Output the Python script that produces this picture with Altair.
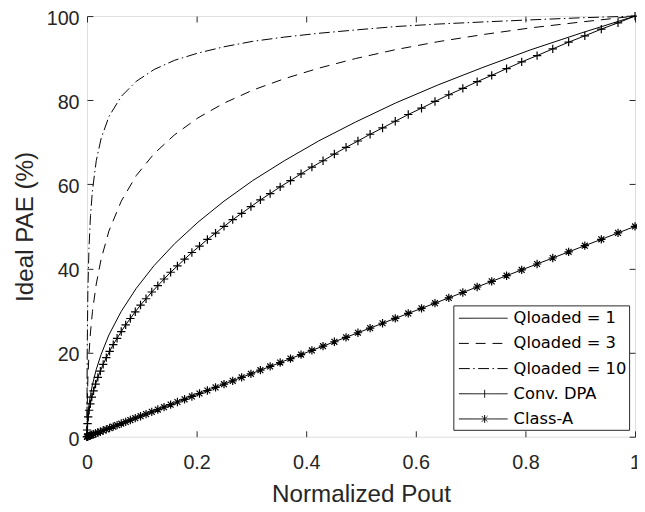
import altair as alt
import pandas as pd

FONT = "Liberation Sans"
LFONT = "DejaVu Sans"
AXC = "#262626"

# ---- data ----
series_names = ["Qloaded = 1", "Qloaded = 3", "Qloaded = 10", "Conv. DPA", "Class-A"]

# sampling grid (Normalized Pout) for the Qloaded curves
pout_q = [0, 0.0001, 0.0004, 0.0016, 0.0036, 0.0064, 0.01, 0.0169, 0.0256, 0.04,
          0.0625, 0.09, 0.1225, 0.16, 0.2025, 0.25, 0.3025, 0.36, 0.4225, 0.49,
          0.5625, 0.64, 0.7225, 0.81, 0.9025, 1]
pae_q1 = [0, 1.3, 2.5, 5.0, 7.5, 10.0, 12.4, 16.0, 19.5, 24.2,
          29.8, 35.3, 40.7, 45.9, 51.0, 56.0, 60.9, 65.6, 70.3, 74.8,
          79.3, 83.6, 87.8, 92.0, 96.0, 100]
pae_q3 = [0, 3.7, 7.2, 13.7, 19.6, 24.9, 29.8, 36.3, 42.1, 48.9,
          56.0, 62.1, 67.3, 71.8, 75.8, 79.3, 82.4, 85.1, 87.6, 89.9,
          92.0, 93.9, 95.6, 97.2, 98.6, 100]
pae_q10 = [0, 11.4, 20.6, 34.7, 44.8, 52.6, 58.6, 65.6, 70.8, 76.1,
           80.9, 84.5, 87.3, 89.5, 91.2, 92.7, 94.0, 95.0, 95.9, 96.7,
           97.5, 98.1, 98.6, 99.1, 99.6, 100]

# marker positions (Normalized Pout) for the marked curves
pout_m = [0, 0.0002, 0.001, 0.0022, 0.0039, 0.0061, 0.0088, 0.012, 0.0156, 0.0198,
          0.0244, 0.0295, 0.0352, 0.0413, 0.0479, 0.0549, 0.0625, 0.0706, 0.0791, 0.0881,
          0.0977, 0.1077, 0.1182, 0.1292, 0.1406, 0.1526, 0.165, 0.178, 0.1914, 0.2053,
          0.2197, 0.2346, 0.25, 0.2659, 0.2822, 0.2991, 0.3164, 0.3342, 0.3525, 0.3713,
          0.3906, 0.4104, 0.4307, 0.4514, 0.4727, 0.4944, 0.5166, 0.5393, 0.5625, 0.5862,
          0.6104, 0.635, 0.6602, 0.6858, 0.7119, 0.7385, 0.7656, 0.7932, 0.8213, 0.8499,
          0.8789, 0.9084, 0.9385, 0.969, 1]
pae_dpa = [0, 1.6, 3.1, 4.7, 6.3, 7.8, 9.4, 10.9, 12.5, 14.1,
           15.6, 17.2, 18.8, 20.3, 21.9, 23.4, 25, 26.6, 28.1, 29.7,
           31.3, 32.8, 34.4, 35.9, 37.5, 39.1, 40.6, 42.2, 43.8, 45.3,
           46.9, 48.4, 50, 51.6, 53.1, 54.7, 56.3, 57.8, 59.4, 60.9,
           62.5, 64.1, 65.6, 67.2, 68.8, 70.3, 71.9, 73.4, 75, 76.6,
           78.1, 79.7, 81.3, 82.8, 84.4, 85.9, 87.5, 89.1, 90.6, 92.2,
           93.8, 95.3, 96.9, 98.4, 100]
pae_classa = [0, 0.01, 0.05, 0.11, 0.2, 0.31, 0.44, 0.6, 0.78, 0.99,
              1.22, 1.48, 1.76, 2.06, 2.39, 2.75, 3.13, 3.53, 3.96, 4.41,
              4.88, 5.38, 5.91, 6.46, 7.03, 7.63, 8.25, 8.9, 9.57, 10.27,
              10.99, 11.73, 12.5, 13.29, 14.11, 14.95, 15.82, 16.71, 17.63, 18.57,
              19.53, 20.52, 21.53, 22.57, 23.63, 24.72, 25.83, 26.97, 28.13, 29.31,
              30.52, 31.75, 33.01, 34.29, 35.6, 36.93, 38.28, 39.66, 41.06, 42.49,
              43.95, 45.42, 46.92, 48.45, 50]

x_ticks = [0, 0.2, 0.4, 0.6, 0.8, 1]
y_ticks = [0, 20, 40, 60, 80, 100]

# ---- tables ----
rows = []
for name, xs, ys in [
    ("Qloaded = 1", pout_q, pae_q1),
    ("Qloaded = 3", pout_q, pae_q3),
    ("Qloaded = 10", pout_q, pae_q10),
    ("Conv. DPA", pout_m, pae_dpa),
    ("Class-A", pout_m, pae_classa),
]:
    for i, (xv, yv) in enumerate(zip(xs, ys)):
        rows.append({"series": name, "pout": xv, "pae": yv, "i": i})
df = pd.DataFrame(rows)
legend_df = pd.DataFrame({"series": series_names})

# ---- styles ----
DASHED = [10, 7]
DASHDOT = [11, 3.5, 1.5, 3.5]
dash_range = [[1, 0], DASHED, DASHDOT, [1, 0], [1, 0]]
plus_path = "M-1,0H1M0,-1V1"
star_path = "M-1,0H1M0,-1V1M-0.7,-0.7L0.7,0.7M-0.7,0.7L0.7,-0.7"
leg_line = "M-0.7,0H4.0"
leg_plus = "M-0.7,0H4.0M1.78,-0.38V0.38"
leg_star = "M-0.7,0H4.0M1.78,-0.38V0.38M1.51,-0.27L2.05,0.27M1.51,0.27L2.05,-0.27"
shape_range = [leg_line, leg_line, leg_line, leg_plus, leg_star]

xscale = alt.Scale(domain=[0, 1], nice=False, zero=False)
yscale = alt.Scale(domain=[0, 100], nice=False, zero=False)


def tick_axis(orient, values):
    return alt.Axis(orient=orient, offset=-6, tickSize=6, ticks=True, labels=False,
                    domain=False, grid=False, title=None, values=values,
                    tickColor=AXC, tickWidth=1)


base = alt.Chart(df)

solid_lines = base.transform_filter(
    alt.FieldOneOfPredicate(field="series", oneOf=["Qloaded = 1", "Conv. DPA", "Class-A"])
).mark_line(color="black", strokeWidth=1).encode(
    x=alt.X("pout:Q", scale=xscale,
            axis=alt.Axis(orient="bottom", values=x_ticks, format="~g", ticks=False, tickSize=0,
                          domain=False, grid=False, labelFont=FONT, labelFontSize=20,
                          labelColor=AXC, labelPadding=16, labelFlush=False, labelOverlap=False,
                          title="Normalized Pout", titleFont=FONT, titleFontSize=24.5,
                          titleFontWeight="normal", titleColor=AXC, titleY=66,
                          titleBaseline="alphabetic")),
    y=alt.Y("pae:Q", scale=yscale,
            axis=alt.Axis(orient="left", values=y_ticks, format="d", ticks=False, tickSize=0,
                          domain=False, grid=False, labelFont=FONT, labelFontSize=20,
                          labelColor=AXC, labelPadding=8, labelOffset=2.5, labelFlush=False,
                          labelOverlap=False,
                          title="Ideal PAE (%)", titleFont=FONT, titleFontSize=24.5,
                          titleFontWeight="normal", titleColor=AXC, titleX=-55,
                          titleBaseline="alphabetic")),
    detail="series:N",
    order="i:Q",
)

dashed_line = base.transform_filter(alt.datum.series == "Qloaded = 3").mark_line(
    color="black", strokeWidth=1, strokeDash=DASHED
).encode(
    x=alt.X("pout:Q", scale=xscale, axis=None),
    y=alt.Y("pae:Q", scale=yscale, axis=None),
    order="i:Q",
)

dashdot_line = base.transform_filter(alt.datum.series == "Qloaded = 10").mark_line(
    color="black", strokeWidth=1, strokeDash=DASHDOT
).encode(
    x=alt.X("pout:Q", scale=xscale, axis=None),
    y=alt.Y("pae:Q", scale=yscale, axis=None),
    order="i:Q",
)

dpa_pts = base.transform_filter(alt.datum.series == "Conv. DPA").mark_point(
    shape=plus_path, size=72, filled=False, color="black", strokeWidth=1.2, opacity=1
).encode(
    x=alt.X("pout:Q", scale=xscale, axis=tick_axis("bottom", x_ticks)),
    y=alt.Y("pae:Q", scale=yscale, axis=tick_axis("left", y_ticks)),
)

cls_pts = base.transform_filter(alt.datum.series == "Class-A").mark_point(
    shape=star_path, size=72, filled=False, color="black", strokeWidth=1.2, opacity=1
).encode(
    x=alt.X("pout:Q", scale=xscale, axis=tick_axis("top", x_ticks)),
    y=alt.Y("pae:Q", scale=yscale, axis=tick_axis("right", y_ticks)),
)

leg = alt.Legend(title=None, orient="none", legendX=371, legendY=293, padding=2,
                 symbolSize=441, symbolStrokeWidth=1, symbolStrokeColor="black",
                 symbolFillColor="transparent", symbolOpacity=1,
                 labelFont=LFONT, labelFontSize=16.5, labelColor="black", labelOffset=37,
                 rowPadding=5.5, strokeColor=AXC, fillColor="white")

legend_layer = alt.Chart(legend_df).mark_point(filled=False, color="black", opacity=0).encode(
    shape=alt.Shape("series:N", scale=alt.Scale(domain=series_names, range=shape_range), legend=leg),
    strokeDash=alt.StrokeDash("series:N", scale=alt.Scale(domain=series_names, range=dash_range),
                              legend=leg),
)

chart = alt.layer(solid_lines, dashed_line, dashdot_line, dpa_pts, cls_pts, legend_layer).resolve_axis(
    x="independent", y="independent"
).properties(
    width=555, height=426,
    padding={"left": 80, "top": 5, "right": 2, "bottom": 68},
    autosize=alt.AutoSizeParams(type="none"),
).configure_view(stroke=AXC, strokeWidth=1).configure(background="white")

chart.save("out.html", embed_options={"renderer": "svg", "actions": False})
